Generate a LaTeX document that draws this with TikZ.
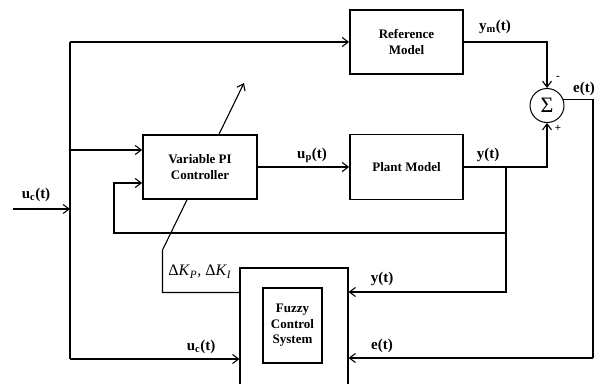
\documentclass[tikz,border=0pt]{standalone}
\usepackage{fontspec}
\setmainfont{Liberation Serif}
\usetikzlibrary{arrows.meta}
\begin{document}
\begin{tikzpicture}[x=1pt,y=-1pt,
  line width=1.1pt,
  arr/.style={-{Straight Barb[length=6pt,width=9pt,line width=1.1pt]}},
  blk/.style={draw,line width=1.7pt,fill=white,align=center,
    font=\bfseries\fontsize{13}{15.5}\selectfont,inner sep=0pt},
  lbl/.style={font=\bfseries\fontsize{15}{18}\selectfont,inner sep=0pt},
  sgn/.style={font=\bfseries\fontsize{11}{11}\selectfont,inner sep=0pt}]
\useasboundingbox (0,0) rectangle (601,383);
\clip (0,0) rectangle (601,383);

% blocks
\node[blk,minimum width=113pt,minimum height=64pt] (ref) at (406.5,42) {Reference\\Model};
\node[blk,minimum width=113pt,minimum height=65pt] (plant) at (406.5,167) {Plant Model};
\node[draw,line width=1.1pt,fill=white,minimum width=108pt,minimum height=132pt] (fuz) at (294,334) {};
\node[blk,minimum width=59pt,minimum height=75pt] (fcs) at (292.5,325.5) {Fuzzy\\Control\\System};
\node[circle,draw,line width=1pt,minimum size=34pt,inner sep=0pt] (sum) at (547,105.5) {\fontsize{22}{22}\selectfont Σ};

% coordinates
\coordinate (in) at (13,209);
\coordinate (jin) at (70,209);
\coordinate (jtop) at (70,42);
\coordinate (jmid) at (70,150);
\coordinate (jbot) at (70,359);
\coordinate (ymc) at (547,42);
\coordinate (yb) at (506,167);
\coordinate (yfb) at (506,233);
\coordinate (yfz) at (506,292);
\coordinate (fbl) at (114,233);
\coordinate (ctrlin) at (114,183);
\coordinate (ec) at (593,99);
\coordinate (eb) at (593,358);
\coordinate (tlow) at (162.5,250);
\coordinate (ttop) at (244,83);
\coordinate (tcorner) at (162.5,292.5);

% tuning arrow (behind controller)
\draw[arr] (fuz.west |- tcorner) -- (tcorner) -- (tlow) -- (ttop);

\node[blk,minimum width=114pt,minimum height=64pt] (ctrl) at (200,167) {Variable PI\\Controller};

% connectors
\draw[arr] (in) -- (jin);
\draw (jtop) -- (jbot);
\draw[arr] (jtop) -- (ref.west);
\draw[arr] (jmid) -- (ctrl.west |- jmid);
\draw[arr] (jbot) -- (fuz.west |- jbot);
\draw[arr] (ctrl.east) -- (plant.west);
\draw[arr] (ref.east) -- (ymc) -- (sum.north);
\draw[arr] (plant.east) -- (sum.south |- plant.east) -- (sum.south);
\draw (sum.20) -- (sum.20 -| ec) -- (eb);
\draw[arr] (eb) -- (fuz.east |- eb);
\draw[arr] (yb) -- (yfz) -- (fuz.east |- yfz);
\draw[arr] (yfb) -- (fbl) -- (ctrlin) -- (ctrl.west |- ctrlin);

% labels
\node[lbl] (lym) at (495,27) {y\textsubscript{m}(t)};
\node[sgn] (lminus) at (558,78) {-};
\node[sgn] (lplus) at (558,128) {+};
\node[lbl] (le1) at (584,89) {e(t)};
\node[lbl] (lup) at (312,155) {u\textsubscript{p}(t)};
\node[lbl] (ly1) at (488,155) {y(t)};
\node[lbl] (luc1) at (36,195) {u\textsubscript{c}(t)};
\node[inner sep=0pt,font=\fontsize{16}{18}\selectfont] (lk) at (200,272) {Δ\textit{K}\textsubscript{\textit{P}}, Δ\textit{K}\textsubscript{\textit{I}}};
\node[lbl] (luc2) at (201,347) {u\textsubscript{c}(t)};
\node[lbl] (ly2) at (382,279) {y(t)};
\node[lbl] (le2) at (382,346) {e(t)};
\end{tikzpicture}
\end{document}
